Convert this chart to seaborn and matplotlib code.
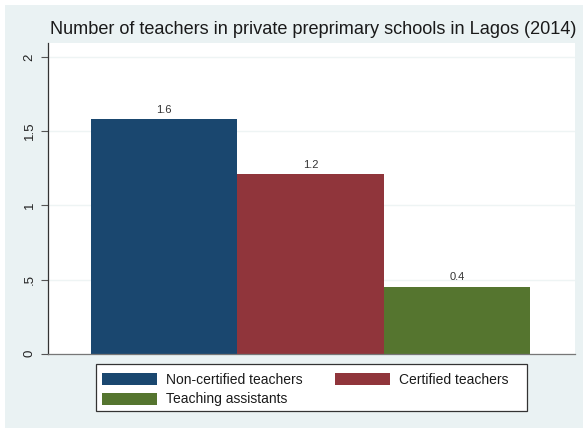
import matplotlib
matplotlib.use("Agg")
import matplotlib.pyplot as plt
import matplotlib.patches as mpatches
import seaborn as sns
import pandas as pd

# data
categories = ["Non-certified teachers", "Certified teachers", "Teaching assistants"]
values = [1.58, 1.21, 0.45]
value_labels = ["1.6", "1.2", "0.4"]
colors = ["#1A476F", "#90353B", "#55752F"]
yticks = [0, 0.5, 1, 1.5, 2]
ytick_labels = ["0", ".5", "1", "1.5", "2"]
title = "Number of teachers in private preprimary schools in Lagos (2014)"

df = pd.DataFrame({"group": categories, "teachers": values})

sns.set_style("white")
plt.rcParams["font.family"] = ["Liberation Sans", "DejaVu Sans"]

W, H = 583, 428
fig = plt.figure(figsize=(5.83, 4.28), dpi=100)
fig.patch.set_facecolor("white")
# stata-like light bluish gray graph region
fig.add_artist(mpatches.Rectangle((5 / W, 0), 1, 1 - 5 / H,
                                  transform=fig.transFigure,
                                  facecolor="#EAF2F3", edgecolor="none", zorder=0))

ax = fig.add_axes([48 / W, 1 - 353.7 / H, (575 - 48) / W, (353.7 - 43) / H])
ax.set_facecolor("white")

sns.barplot(data=df, x="group", y="teachers", hue="group", palette=colors,
            width=1.0, legend=False, ax=ax, linewidth=0, saturation=1)

for i, lab in enumerate(value_labels):
    ax.text(i, values[i] + 0.03, lab, ha="center", va="bottom",
            fontsize=8, color="#333333")

ax.set_xlim(-0.794, 2.808)
ax.set_ylim(0, 2.094)
ax.set_yticks(yticks)
ax.set_yticklabels(ytick_labels, rotation=90, va="center", fontsize=9.5, color="#222222")
ax.set_xticks([])
ax.set_xlabel("")
ax.set_ylabel("")
ax.yaxis.grid(True, color="#EEF4F4", linewidth=1)
ax.set_axisbelow(True)
ax.tick_params(axis="y", length=5, width=0.8, color="#555555", pad=4, left=True)

for s in ["top", "right"]:
    ax.spines[s].set_visible(False)
ax.spines["left"].set_color("#333333")
ax.spines["left"].set_linewidth(0.9)
ax.spines["bottom"].set_color("#777777")
ax.spines["bottom"].set_linewidth(0.9)

fig.text((48 + 578) / 2 / W, 1 - 30 / H, title, ha="center", va="center",
         fontsize=13.1, color="#1a1a1a")

# legend frame drawn separately so the padding matches
fig.add_artist(mpatches.Rectangle((96 / W, 1 - 411 / H), (527 - 96) / W, (411 - 364) / H,
                                  transform=fig.transFigure, facecolor="white",
                                  edgecolor="#333333", linewidth=0.9, zorder=1))

handles = [mpatches.Patch(facecolor=c, edgecolor="none", label=l)
           for c, l in zip(colors, categories)]
order = [0, 2, 1]
leg = fig.legend([handles[i] for i in order], [categories[i] for i in order],
                 ncol=2, loc="upper left",
                 bbox_to_anchor=(102 / W, 1 - 372.5 / H),
                 fontsize=10, handlelength=3.95, handleheight=1.0, handletextpad=0.65,
                 labelspacing=0.43, borderpad=0, borderaxespad=0, columnspacing=2.37,
                 frameon=False)
leg.set_zorder(2)
for t in leg.get_texts():
    t.set_color("#1a1a1a")

fig.savefig("out.png", dpi=100)
